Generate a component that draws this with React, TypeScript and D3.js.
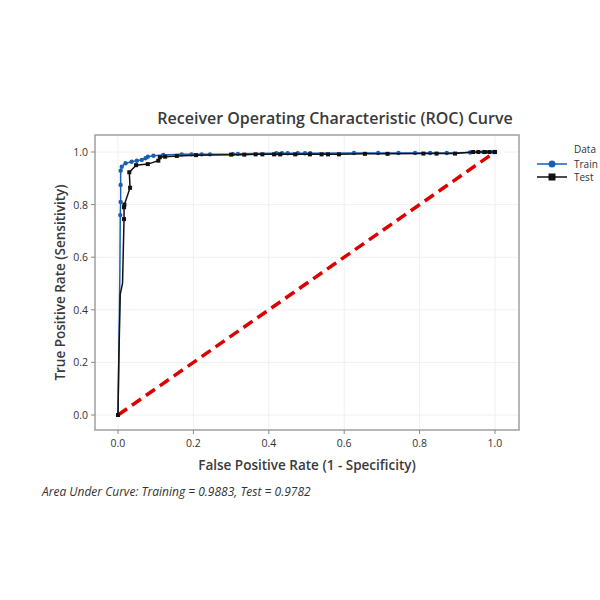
import React from "react";
import * as d3 from "d3";

const trainFpr = [0, 0.003, 0.005, 0.006, 0.007, 0.007, 0.007, 0.01, 0.02, 0.036, 0.05, 0.063, 0.073, 0.079, 0.094, 0.12, 0.169, 0.195, 0.222, 0.244, 0.305, 0.318, 0.42, 0.435, 0.45, 0.477, 0.496, 0.51, 0.626, 0.69, 0.744, 0.788, 0.828, 0.872, 0.934, 0.969, 0.995, 1];
const trainTpr = [0, 0.3, 0.55, 0.76, 0.81, 0.875, 0.929, 0.944, 0.957, 0.963, 0.967, 0.97, 0.976, 0.982, 0.986, 0.989, 0.991, 0.991, 0.991, 0.991, 0.992, 0.993, 0.995, 0.995, 0.995, 0.995, 0.995, 0.995, 0.996, 0.996, 0.996, 0.996, 0.996, 0.996, 0.998, 1, 1, 1];
const testFpr = [0, 0.002, 0.006, 0.012, 0.016, 0.016, 0.017, 0.032, 0.03, 0.048, 0.079, 0.107, 0.111, 0.125, 0.156, 0.207, 0.3, 0.335, 0.365, 0.383, 0.414, 0.43, 0.47, 0.509, 0.54, 0.557, 0.586, 0.655, 0.715, 0.81, 0.845, 0.894, 0.942, 0.956, 0.973, 0.985, 1];
const testTpr = [0, 0.2, 0.46, 0.5, 0.745, 0.79, 0.8, 0.864, 0.923, 0.95, 0.954, 0.967, 0.98, 0.982, 0.985, 0.988, 0.99, 0.99, 0.991, 0.991, 0.991, 0.991, 0.991, 0.991, 0.991, 0.991, 0.991, 0.993, 0.993, 0.994, 0.994, 0.994, 1, 1, 1, 1, 1];
const trainMarked = [false, false, false, true, true, true, true, true, true, true, true, true, true, true, true, true, true, true, true, true, true, true, true, true, true, true, true, true, true, true, true, true, true, true, true, true, true, true];
const testMarked = [true, false, false, false, true, true, true, true, true, true, true, true, true, true, true, true, true, true, true, true, true, true, true, true, true, true, true, true, true, true, true, true, true, true, true, true, true];
const xTicks = [0, 0.2, 0.4, 0.6, 0.8, 1.0];
const yTicks = [0, 0.2, 0.4, 0.6, 0.8, 1.0];
const seriesNames = ["Train", "Test"];

const FONT = "'Open Sans', 'Noto Sans', sans-serif";
const BLUE = "#1a5fb4";
const BLACK = "#111";

export default function App() {
  const panel = { left: 95, right: 519, top: 135, bottom: 430 };
  const x = d3.scaleLinear().domain([0, 1]).range([118, 495]);
  const y = d3.scaleLinear().domain([0, 1]).range([415, 152]);
  const line = d3
    .line<[number, number]>()
    .x((d) => x(d[0]))
    .y((d) => y(d[1]));
  const train: [number, number][] = trainFpr.map((f, i) => [f, trainTpr[i]]);
  const test: [number, number][] = testFpr.map((f, i) => [f, testTpr[i]]);

  return (
    <svg width={600} height={600} style={{ display: "block", position: "fixed", left: 0, top: 0 }} fontFamily={FONT}>
      <rect width={600} height={600} fill="#fff" />
      {/* grid */}
      {xTicks.map((t) => (
        <line key={"gx" + t} x1={x(t)} x2={x(t)} y1={panel.top} y2={panel.bottom} stroke="#f0f0f0" strokeWidth={1} />
      ))}
      {yTicks.map((t) => (
        <line key={"gy" + t} y1={y(t)} y2={y(t)} x1={panel.left} x2={panel.right} stroke="#f0f0f0" strokeWidth={1} />
      ))}
      {/* panel border */}
      <rect x={panel.left} y={panel.top} width={panel.right - panel.left} height={panel.bottom - panel.top} fill="none" stroke="#a0a0a0" strokeWidth={1.5} />
      {/* ticks */}
      {xTicks.map((t) => (
        <g key={"tx" + t}>
          <line x1={x(t)} x2={x(t)} y1={panel.bottom} y2={panel.bottom + 4} stroke="#888" />
          <text x={x(t)} y={panel.bottom + 17} textAnchor="middle" fontSize={10.5} fill="#333">
            {d3.format(".1f")(t)}
          </text>
        </g>
      ))}
      {yTicks.map((t) => (
        <g key={"ty" + t}>
          <line x1={panel.left - 4} x2={panel.left} y1={y(t)} y2={y(t)} stroke="#888" />
          <text x={panel.left - 7} y={y(t) + 4} textAnchor="end" fontSize={10.5} fill="#333">
            {d3.format(".1f")(t)}
          </text>
        </g>
      ))}
      {/* diagonal */}
      <path d={line([[0, 0], [1, 1]]) || ""} stroke="#dd0000" strokeWidth={3.5} strokeDasharray="11,6" fill="none" />
      {/* curves */}
      <path d={line(train) || ""} stroke={BLUE} strokeWidth={1.5} fill="none" />
      {train.map((d, i) =>
        trainMarked[i] ? <circle key={"tc" + i} cx={x(d[0])} cy={y(d[1])} r={2.2} fill={BLUE} /> : null
      )}
      <path d={line(test) || ""} stroke={BLACK} strokeWidth={1.5} fill="none" />
      {test.map((d, i) =>
        testMarked[i] ? <rect key={"ts" + i} x={x(d[0]) - 2} y={y(d[1]) - 2} width={4} height={4} fill={BLACK} /> : null
      )}
      {/* titles */}
      <text x={335} y={124} textAnchor="middle" fontSize={16} fontWeight={600} fill="#3a3a3a">
        Receiver Operating Characteristic (ROC) Curve
      </text>
      <text x={307} y={470} textAnchor="middle" fontSize={13.5} fontWeight={600} fill="#3a3a3a">
        False Positive Rate (1 - Specificity)
      </text>
      <text transform={`translate(65,${(panel.top + panel.bottom) / 2}) rotate(-90)`} textAnchor="middle" fontSize={13.5} fontWeight={600} fill="#3a3a3a">
        True Positive Rate (Sensitivity)
      </text>
      <text x={42} y={496} fontSize={12} fontStyle="italic" fill="#333">
        Area Under Curve: Training = 0.9883, Test = 0.9782
      </text>
      {/* legend */}
      <text x={574} y={153} fontSize={10} fill="#333">Data</text>
      {seriesNames.map((name, i) => {
        const ly = 164 + i * 13;
        return (
          <g key={name}>
            <line x1={537} x2={567} y1={ly} y2={ly} stroke={i === 0 ? BLUE : BLACK} strokeWidth={1.5} />
            {i === 0 ? (
              <circle cx={552} cy={ly} r={3.5} fill={BLUE} />
            ) : (
              <rect x={548.5} y={ly - 3.5} width={7} height={7} fill={BLACK} />
            )}
            <text x={574} y={ly + 3.5} fontSize={10} fill="#333">{name}</text>
          </g>
        );
      })}
    </svg>
  );
}
